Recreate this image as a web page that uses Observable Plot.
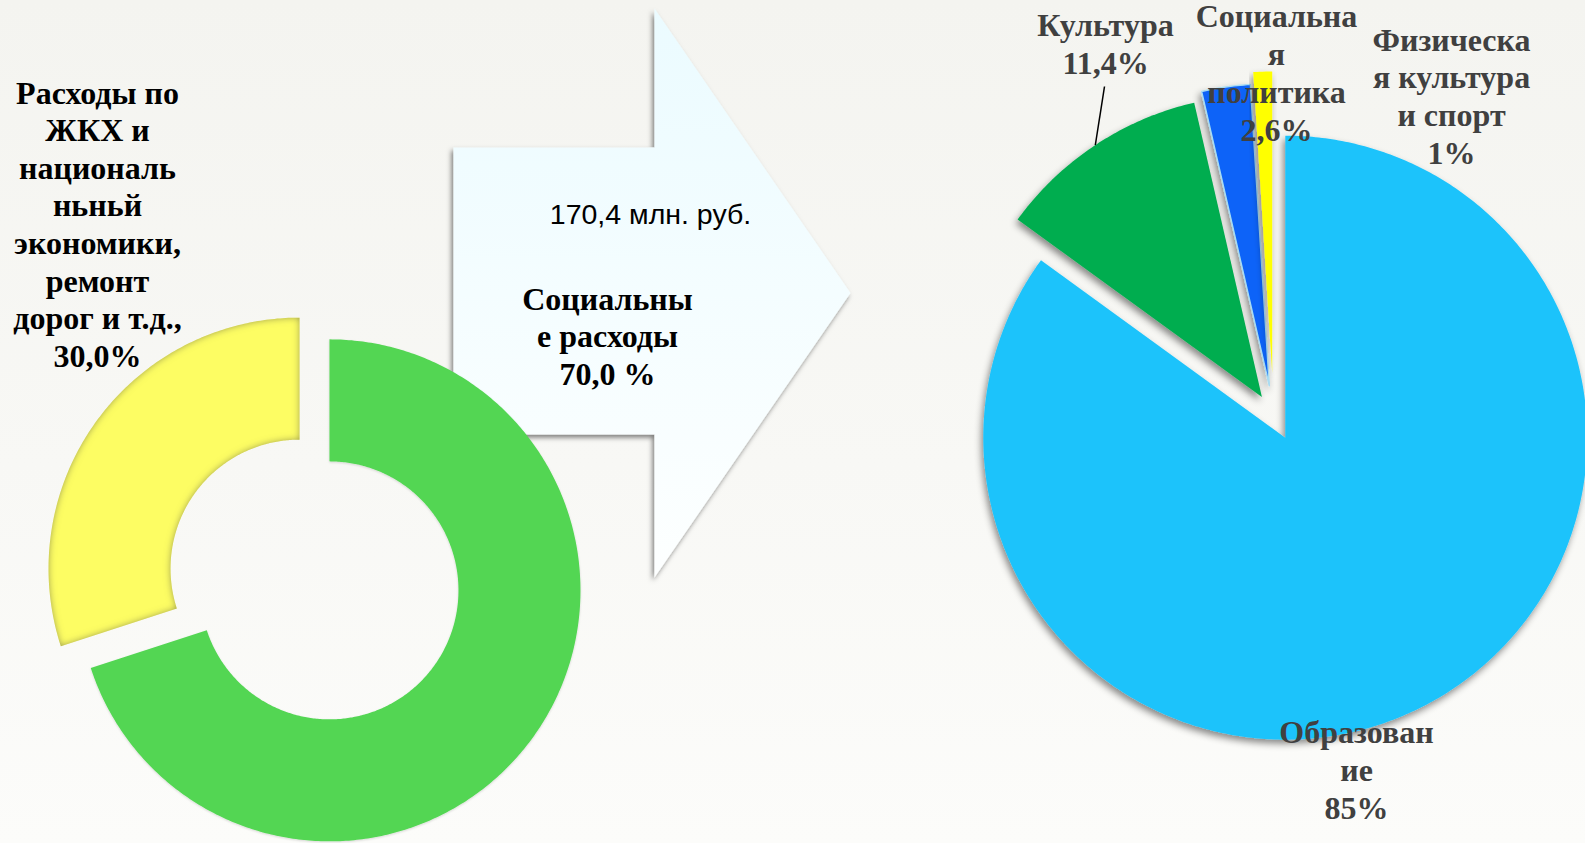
<!DOCTYPE html>
<html><head><meta charset="utf-8">
<script src="https://cdn.jsdelivr.net/npm/d3@7"></script>
<script src="https://cdn.jsdelivr.net/npm/@observablehq/plot@0.6"></script>
<style>
html,body{margin:0;padding:0;overflow:hidden}
body{width:1585px;height:843px;background:linear-gradient(180deg,#f4f4f0 0%,#f8f8f5 55%,#fcfcfa 100%)}
#chart{position:absolute;left:0;top:0}
</style></head><body><div id="chart"></div>
<script>
// ---------- data ----------
const donutCategories = ["Социальные расходы", "Расходы по ЖКХ и национальной экономики, ремонт дорог и т.д."];
const donutValues = [70.0, 30.0];
const pieCategories = ["Образование", "Культура", "Социальная политика", "Физическая культура и спорт"];
const pieValues = [85, 11.4, 2.6, 1];
const totalLabel = "170,4 млн. руб.";
const donutLabelLines = [["Социальны", "е расходы", "70,0 %"],
  ["Расходы по", "ЖКХ и", "националь", "ньньй", "экономики,", "ремонт", "дорог и т.д.,", "30,0%"]];
const pieLabelLines = [["Образован", "ие", "85%"], ["Культура", "11,4%"],
  ["Социальна", "я", "политика", "2,6%"], ["Физическа", "я культура", "и спорт", "1%"]];

// ---------- layout / style ----------
const W = 1585, H = 843;
const donut = {cx: 314, cy: 579, R: 251, r: 129, explode: [18.5, 18.5], colors: ["#53d653", "#fdfd64"]};
const pie = {cx: 1273, cy: 414, R: 302, explode: [26, 21, 29, 41], colors: ["#1fc3fb", "#00ad4f", "#0a64f8", "#ffff00"]};
const arrowLayout = {x0: 453, neck: 654, top: 147, bottom: 434, headTop: 8, headBottom: 577, tipX: 850};
const donutLabelPos = [{x: 607, y: 309, lh: 37.5}, {x: 97, y: 103, lh: 37.6}];
const pieLabelPos = [{x: 1356, y: 742, lh: 38}, {x: 1105, y: 35, lh: 38}, {x: 1276, y: 26, lh: 38}, {x: 1451, y: 50, lh: 37.7}];
const totalPos = {x: 650, y: 223};

function slicePoints(arc, c, R, r, d) {
  const mid = (arc.startAngle + arc.endAngle) / 2;
  const ox = c.cx + d * Math.sin(mid), oy = c.cy - d * Math.cos(mid);
  const span = arc.endAngle - arc.startAngle;
  const n = Math.max(6, Math.ceil(span * 90));
  const pts = [];
  for (let i = 0; i <= n; i++) {
    const a = arc.startAngle + span * i / n;
    pts.push({x: ox + R * Math.sin(a), y: oy - R * Math.cos(a)});
  }
  if (r > 0) {
    for (let i = n; i >= 0; i--) {
      const a = arc.startAngle + span * i / n;
      pts.push({x: ox + r * Math.sin(a), y: oy - r * Math.cos(a)});
    }
  } else pts.push({x: ox, y: oy});
  pts.push(pts[0]);
  return {pts, ox, oy, mid};
}

const donutArcs = d3.pie().sort(null).value(d => d)(donutValues);
const pieArcs = d3.pie().sort(null).value(d => d)(pieValues);
const donutSlices = donutArcs.map((a, i) => slicePoints(a, donut, donut.R, donut.r, donut.explode[i]));
const pieSlices = pieArcs.map((a, i) => slicePoints(a, pie, pie.R, 0, pie.explode[i]));

const A = arrowLayout;
const arrowPts = [[A.x0, A.top], [A.neck, A.top], [A.neck, A.headTop], [A.tipX, (A.headTop + A.headBottom) / 2],
  [A.neck, A.headBottom], [A.neck, A.bottom], [A.x0, A.bottom], [A.x0, A.top]].map(([x, y]) => ({x, y}));

// leader line for "Культура": from label bottom to middle of slice's outer arc
const cult = pieSlices[1];
const leader = [{x1: pieLabelPos[1].x - 1, y1: 86,
  x2: cult.ox + pie.R * Math.sin(cult.mid), y2: cult.oy - pie.R * Math.cos(cult.mid)}];

function lineRows(lines, pos) {
  return lines.map((t, i) => ({text: t, x: pos.x, y: pos.y + i * pos.lh}));
}
const serif = "'Liberation Serif','Times New Roman',serif";

const marks = [
  Plot.line(arrowPts, {x: "x", y: "y", fill: "url(#arrowGrad)", stroke: "none"}),
  ...donutSlices.map((s, i) => Plot.line(s.pts, {x: "x", y: "y", fill: donut.colors[i], stroke: "none"})),
  ...pieSlices.map((s, i) => Plot.line(s.pts, {x: "x", y: "y", fill: pie.colors[i],
      stroke: i === 2 ? "#a9dcf2" : "none", strokeWidth: 1.5})),
  Plot.link(leader, {x1: "x1", y1: "y1", x2: "x2", y2: "y2", stroke: "#000", strokeWidth: 1.5}),
  Plot.text([{text: totalLabel, ...totalPos}], {x: "x", y: "y", text: "text", lineAnchor: "bottom",
      fontFamily: "'Liberation Sans',Arial,sans-serif", fontSize: 28.5, fill: "#000"}),
  ...donutLabelLines.map((lines, i) => Plot.text(lineRows(lines, donutLabelPos[i]), {x: "x", y: "y", text: "text",
      lineAnchor: "bottom", fontFamily: serif, fontWeight: "bold", fontSize: 32, fill: "#000"})),
  ...pieLabelLines.map((lines, i) => Plot.text(lineRows(lines, pieLabelPos[i]), {x: "x", y: "y", text: "text",
      lineAnchor: "bottom", fontFamily: serif, fontWeight: "bold", fontSize: 32, fill: "#404040"}))
];

const plot = Plot.plot({
  width: W, height: H, margin: 0,
  x: {domain: [0, W], range: [0, W], axis: null},
  y: {domain: [0, H], range: [0, H], axis: null},
  style: {background: "transparent", overflow: "visible"},
  marks
});

const svg = d3.select(plot);
const defs = svg.insert("defs", ":first-child");
const g = defs.append("linearGradient").attr("id", "arrowGrad").attr("x1", 0).attr("y1", 0).attr("x2", 0).attr("y2", 1);
g.append("stop").attr("offset", "0%").attr("stop-color", "#ebfbff");
g.append("stop").attr("offset", "100%").attr("stop-color", "#fdffff");
function shadow(id, dx, dy, sd, op) {
  const f = defs.append("filter").attr("id", id).attr("x", "-20%").attr("y", "-20%").attr("width", "140%").attr("height", "140%");
  f.append("feDropShadow").attr("dx", dx).attr("dy", dy).attr("stdDeviation", sd)
    .attr("flood-color", "#000").attr("flood-opacity", op);
}
shadow("arrowShadow", -2, 3, 2.5, 0.5);
shadow("pieShadow", -2, 4, 3.5, 0.45);
shadow("softShadow", 0, 1, 1.2, 0.15);
const inner = defs.append("filter").attr("id", "innerShade").attr("x", "-10%").attr("y", "-10%").attr("width", "120%").attr("height", "120%");
inner.append("feFlood").attr("flood-color", "#6a6a4a").attr("flood-opacity", 0.85).attr("result", "fl");
inner.append("feComposite").attr("in", "fl").attr("in2", "SourceAlpha").attr("operator", "out").attr("result", "outside");
inner.append("feGaussianBlur").attr("in", "outside").attr("stdDeviation", 3.5).attr("result", "bl");
inner.append("feComposite").attr("in", "bl").attr("in2", "SourceAlpha").attr("operator", "in").attr("result", "sh");
const mg = inner.append("feMerge");
mg.append("feMergeNode").attr("in", "SourceGraphic");
mg.append("feMergeNode").attr("in", "sh");

const groups = svg.selectAll('g[aria-label="line"]').nodes();
const filt = ["arrowShadow", "softShadow", "innerShade", "pieShadow", "pieShadow", "pieShadow", "pieShadow"];
groups.forEach((n, i) => { if (filt[i]) n.setAttribute("filter", `url(#${filt[i]})`); });

document.getElementById("chart").appendChild(plot);
</script>
</body></html>
